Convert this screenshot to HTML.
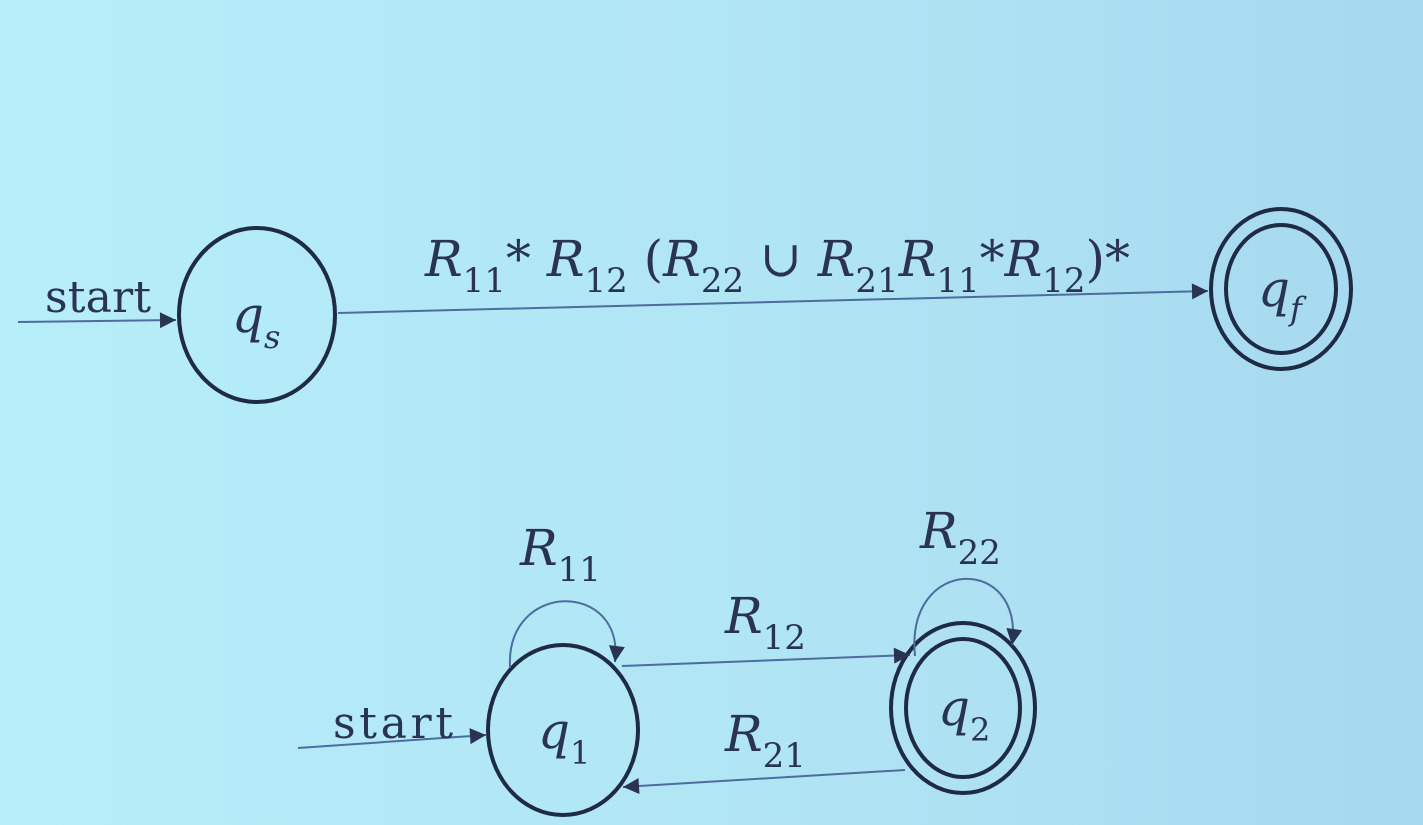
<!DOCTYPE html>
<html><head><meta charset="utf-8"><style>
html,body{margin:0;padding:0}
body{width:1423px;height:825px;overflow:hidden;background:linear-gradient(90deg,#b6eef9 0%,#b0e4f4 60%,#a6d8ef 100%)}
svg{display:block}
text{font-family:"DejaVu Serif","Liberation Serif",serif;fill:#2a3452}
.m{font-style:italic}
.s{font-style:normal}
</style></head><body>
<svg width="1423" height="825" viewBox="0 0 1423 825">
<defs>
<marker id="ah" viewBox="0 0 10 10" refX="10" refY="5" markerWidth="22" markerHeight="16" markerUnits="userSpaceOnUse" orient="auto"><path d="M0,0 L10,5 L0,10 z" fill="#2a3452"/></marker>
</defs>
<g>
<line x1="18" y1="322" x2="176" y2="320" stroke="#4c6d9e" stroke-width="2" marker-end="url(#ah)"/>
<text x="45" y="312" font-size="44" textLength="106">start</text>
<ellipse cx="257" cy="315" rx="78" ry="87" fill="none" stroke="#1f2a44" stroke-width="4"/>
<text x="232" y="332" font-size="50" class="m">q<tspan font-size="32" dy="16">s</tspan></text>
<line x1="338" y1="313" x2="1208" y2="291" stroke="#4c6d9e" stroke-width="2" marker-end="url(#ah)"/>
<text x="425" y="276" font-size="50" class="m">R<tspan class="s" font-size="34" dy="16">11</tspan><tspan class="s" dy="-16">* </tspan>R<tspan class="s" font-size="34" dy="16">12</tspan><tspan class="s" dy="-16"> (</tspan>R<tspan class="s" font-size="34" dy="16">22</tspan><tspan class="s" dy="-16"> ∪ </tspan>R<tspan class="s" font-size="34" dy="16">21</tspan><tspan dy="-16">R</tspan><tspan class="s" font-size="34" dy="16">11</tspan><tspan class="s" dy="-16">*</tspan>R<tspan class="s" font-size="34" dy="16">12</tspan><tspan class="s" dy="-16">)*</tspan></text>
<ellipse cx="1281" cy="289" rx="70" ry="80" fill="none" stroke="#1f2a44" stroke-width="4"/>
<ellipse cx="1281" cy="289" rx="55" ry="64" fill="none" stroke="#1f2a44" stroke-width="4"/>
<text x="1258" y="306" font-size="50" class="m">q<tspan font-size="32" dy="14">f</tspan></text>
</g>
<g>
<line x1="298" y1="748" x2="486" y2="735" stroke="#4c6d9e" stroke-width="2" marker-end="url(#ah)"/>
<text x="333" y="738" font-size="44" textLength="120">start</text>
<ellipse cx="563" cy="730" rx="75" ry="85" fill="none" stroke="#1f2a44" stroke-width="4"/>
<text x="538" y="748" font-size="50" class="m">q<tspan class="s" font-size="32" dy="16">1</tspan></text>
<ellipse cx="963" cy="708" rx="72" ry="85" fill="none" stroke="#1f2a44" stroke-width="4"/>
<ellipse cx="963" cy="708" rx="57" ry="69" fill="none" stroke="#1f2a44" stroke-width="4"/>
<text x="938" y="725" font-size="50" class="m">q<tspan class="s" font-size="32" dy="16">2</tspan></text>
<line x1="622" y1="666" x2="910" y2="655" stroke="#4c6d9e" stroke-width="2" marker-end="url(#ah)"/>
<text x="725" y="633" font-size="50" class="m">R<tspan class="s" font-size="34" dy="16">12</tspan></text>
<line x1="905" y1="770" x2="623" y2="787" stroke="#4c6d9e" stroke-width="2" marker-end="url(#ah)"/>
<text x="725" y="751" font-size="50" class="m">R<tspan class="s" font-size="34" dy="16">21</tspan></text>
<path d="M510,668 C505,580 625,580 615,662" fill="none" stroke="#4c6d9e" stroke-width="2" marker-end="url(#ah)"/>
<text x="520" y="565" font-size="50" class="m">R<tspan class="s" font-size="34" dy="16">11</tspan></text>
<path d="M915,656 C905,555 1025,555 1012,645" fill="none" stroke="#4c6d9e" stroke-width="2" marker-end="url(#ah)"/>
<text x="920" y="548" font-size="50" class="m">R<tspan class="s" font-size="34" dy="16">22</tspan></text>
</g>
</svg>
</body></html>
